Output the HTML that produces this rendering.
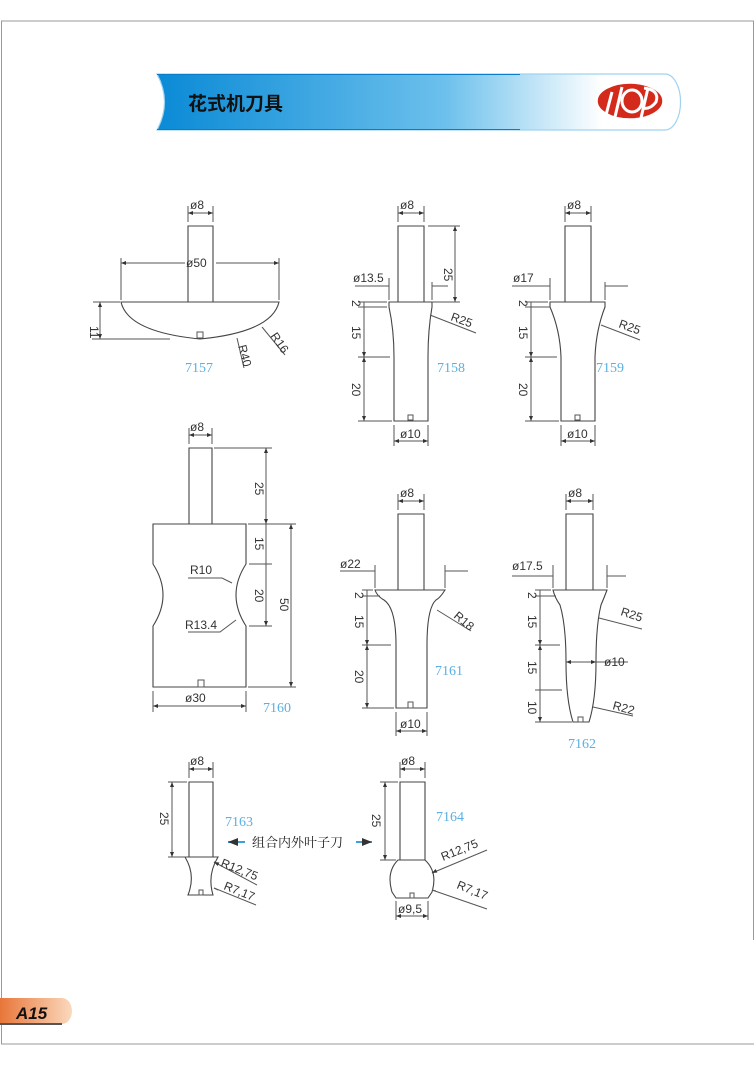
<!DOCTYPE html>
<html><head><meta charset="utf-8"><style>
html,body{margin:0;padding:0;background:#fff}
svg{display:block}
.l{stroke:#555;stroke-width:1;fill:none}
.b{stroke:#444;stroke-width:1.1;fill:#fff}
.t{font-family:"Liberation Sans",sans-serif;font-size:12px;fill:#333}
.n{font-family:"Liberation Serif",serif;font-size:14px;fill:#5ab0e0}
</style></head><body>
<svg width="755" height="1066" viewBox="0 0 755 1066" xmlns="http://www.w3.org/2000/svg">
<defs>
<marker id="a" viewBox="0 0 10 10" refX="10" refY="5" markerWidth="7" markerHeight="5" orient="auto-start-reverse"><path d="M0,1 L10,5 L0,9z" fill="#333"/></marker>
<linearGradient id="hg" x1="0" x2="1"><stop offset="0" stop-color="#0a8ad6"/><stop offset="0.55" stop-color="#6cc0ec"/><stop offset="0.85" stop-color="#fff"/><stop offset="1" stop-color="#fff"/></linearGradient>
<linearGradient id="og" x1="0" x2="1"><stop offset="0" stop-color="#e8763a"/><stop offset="1" stop-color="#fbd9bd"/></linearGradient>
</defs>
<path d="M1,21 H754 M1.5,21 V1044 H754 M753.5,21 V940" stroke="#999" stroke-width="1" fill="none"/>
<path d="M157,74 H665 A15,27 0 0 1 665,130 H157 Q172,102 157,74z" fill="url(#hg)" stroke="#9fd3f0" stroke-width="1.2"/>
<path d="M157,74.5 H520 M157,129.5 H520" stroke="#0a7cc8" stroke-width="1"/>
<text x="188" y="110" font-family="'Noto Sans CJK SC',sans-serif" font-weight="bold" font-size="19" fill="#111">花式机刀具</text>
<ellipse cx="630" cy="101" rx="33" ry="18" fill="#d42a1c" stroke="#fff" stroke-width="1.5"/>
<ellipse cx="632" cy="101" rx="10" ry="11" fill="none" stroke="#fff" stroke-width="3"/>
<path d="M612,92 L606,115 M622,87 L615,117 M648,88 L641,118" stroke="#fff" stroke-width="3"/>
<path d="M644,88 Q660,90 656,102 Q650,110 642,108" stroke="#fff" stroke-width="3" fill="none"/>
<path d="M0,998 H62 A10,13 0 0 1 62,1024 H0z" fill="url(#og)"/>
<path d="M0,1024 H62" stroke="#555" stroke-width="2"/>
<text x="16" y="1019" font-family="'Liberation Sans',sans-serif" font-style="italic" font-weight="bold" font-size="17" fill="#111">A15</text>

<path class="b" d="M188,302 V226 H213 V302"/>
<path class="b" d="M121,302 H279 Q272,332 200,339 Q128,332 121,302z"/>
<rect class="l" x="197" y="332" width="6" height="6"/>
<path class="l" d="M188,222 V206 M213,222 V206 M121,300 V258 M279,300 V258 M93,302 H120 M92,339 H170 M262,327 L285,355 M237,338 L244,368"/>
<path class="l" d="M188,213 H213" marker-start="url(#a)" marker-end="url(#a)"/>
<path class="l" d="M121,263 H185 M216,263 H279" marker-start="url(#a)"/>
<path class="l" d="M279,263 H216" marker-start="url(#a)"/>
<path class="l" d="M100,302 V339" marker-start="url(#a)" marker-end="url(#a)"/>
<text class="t" x="190" y="209">ø8</text>
<text class="t" x="186" y="267">ø50</text>
<text class="t" transform="translate(90,326) rotate(90)">11</text>
<text class="t" transform="translate(270,336) rotate(55)">R16</text>
<text class="t" transform="translate(238,346) rotate(75)">R40</text>
<text class="n" x="185" y="372">7157</text>

<g>
<path class="b" d="M398,302 V226 H424 V302"/>
<path class="b" d="M389,302 H432 V307 Q428,330 428,357 V421 H394 V357 Q394,330 389,307z"/>
<rect class="l" x="408" y="415" width="5" height="5"/>
<path class="l" d="M398,222 V206 M424,222 V206 M428,226 H460 M432,302 H460 M389,300 V278 M432,300 V282 M355,286 H389 M432,286 H448 M358,302 H387 M358,307 H387 M358,357 H390 M358,421 H392 M394,425 V446 M428,425 V446 M430,315 L476,333"/>
<path class="l" d="M398,213 H424" marker-start="url(#a)" marker-end="url(#a)"/>
<path class="l" d="M455,226 V302" marker-start="url(#a)" marker-end="url(#a)"/>
<path class="l" d="M364,302 V307 M364,307 V357" marker-end="url(#a)"/>
<path class="l" d="M364,357 V421" marker-start="url(#a)" marker-end="url(#a)"/>
<path class="l" d="M394,441 H428" marker-start="url(#a)" marker-end="url(#a)"/>
<text class="t" x="400" y="209">ø8</text>
<text class="t" x="353" y="282">ø13.5</text>
<text class="t" transform="translate(444,268) rotate(90)">25</text>
<text class="t" transform="translate(352,300) rotate(90)">2</text>
<text class="t" transform="translate(352,326) rotate(90)">15</text>
<text class="t" transform="translate(352,383) rotate(90)">20</text>
<text class="t" x="400" y="438">ø10</text>
<text class="t" transform="translate(450,320) rotate(20)">R25</text>
<text class="n" x="437" y="372">7158</text>
</g>

<g>
<path class="b" d="M565,302 V226 H591 V302"/>
<path class="b" d="M550,302 H605 V307 Q596,330 595,357 V421 H561 V357 Q560,330 550,307z"/>
<rect class="l" x="575" y="415" width="5" height="5"/>
<path class="l" d="M565,222 V206 M591,222 V206 M550,300 V278 M605,300 V282 M512,286 H550 M605,286 H628 M525,302 H548 M525,307 H550 M525,357 H557 M525,421 H559 M561,425 V446 M595,425 V446 M601,325 L640,340"/>
<path class="l" d="M565,213 H591" marker-start="url(#a)" marker-end="url(#a)"/>
<path class="l" d="M531,302 V307 M531,307 V357" marker-end="url(#a)"/>
<path class="l" d="M531,357 V421" marker-start="url(#a)" marker-end="url(#a)"/>
<path class="l" d="M561,441 H595" marker-start="url(#a)" marker-end="url(#a)"/>
<text class="t" x="567" y="209">ø8</text>
<text class="t" x="513" y="282">ø17</text>
<text class="t" transform="translate(519,300) rotate(90)">2</text>
<text class="t" transform="translate(519,326) rotate(90)">15</text>
<text class="t" transform="translate(519,383) rotate(90)">20</text>
<text class="t" x="567" y="438">ø10</text>
<text class="t" transform="translate(618,327) rotate(20)">R25</text>
<text class="n" x="596" y="372">7159</text>
</g>

<g>
<path class="b" d="M189,524 V448 H212 V524"/>
<path class="b" d="M153,524 H246 V564 Q226,595 246,626 V687 H153 V626 Q173,595 153,564z"/>
<rect class="l" x="198" y="680" width="6" height="7"/>
<path class="l" d="M189,444 V428 M212,444 V428 M214,448 H272 M248,524 H296 M249,564 H272 M249,626 H272 M248,687 H296 M153,691 V712 M246,691 V712 M188,578 H222 L232,583 M188,632 H220 L236,620"/>
<path class="l" d="M189,435 H212" marker-start="url(#a)" marker-end="url(#a)"/>
<path class="l" d="M266,448 V524" marker-start="url(#a)" marker-end="url(#a)"/>
<path class="l" d="M266,524 V564 M266,564 V626" marker-end="url(#a)"/>
<path class="l" d="M291,524 V687" marker-start="url(#a)" marker-end="url(#a)"/>
<path class="l" d="M153,706 H246" marker-start="url(#a)" marker-end="url(#a)"/>
<text class="t" x="190" y="431">ø8</text>
<text class="t" transform="translate(255,482) rotate(90)">25</text>
<text class="t" transform="translate(255,537) rotate(90)">15</text>
<text class="t" transform="translate(255,589) rotate(90)">20</text>
<text class="t" transform="translate(280,598) rotate(90)">50</text>
<text class="t" x="190" y="574">R10</text>
<text class="t" x="185" y="629">R13.4</text>
<text class="t" x="185" y="702">ø30</text>
<text class="n" x="263" y="712">7160</text>
</g>

<g>
<path class="b" d="M398,590 V514 H424 V590"/>
<path class="b" d="M375,590 H445 Q440,598 436,600 Q427,608 427,645 V708 H396 V645 Q396,608 384,600 Q377,596 375,590z"/>
<rect class="l" x="408" y="702" width="5" height="6"/>
<path class="l" d="M398,510 V494 M424,510 V494 M375,588 V565 M445,588 V565 M340,571 H375 M445,571 H468 M362,590 H373 M362,596 H380 M362,645 H391 M362,708 H394 M396,712 V736 M427,712 V736 M437,610 L471,631"/>
<path class="l" d="M398,501 H424" marker-start="url(#a)" marker-end="url(#a)"/>
<path class="l" d="M367,590 V596 M367,596 V645" marker-end="url(#a)"/>
<path class="l" d="M367,645 V708" marker-start="url(#a)" marker-end="url(#a)"/>
<path class="l" d="M396,731 H427" marker-start="url(#a)" marker-end="url(#a)"/>
<text class="t" x="400" y="497">ø8</text>
<text class="t" x="340" y="568">ø22</text>
<text class="t" transform="translate(355,592) rotate(90)">2</text>
<text class="t" transform="translate(355,615) rotate(90)">15</text>
<text class="t" transform="translate(355,670) rotate(90)">20</text>
<text class="t" x="400" y="728">ø10</text>
<text class="t" transform="translate(453,617) rotate(40)">R18</text>
<text class="n" x="435" y="675">7161</text>
</g>

<g>
<path class="b" d="M566,590 V514 H593 V590"/>
<path class="b" d="M553,590 H607 Q604,598 601,605 Q596,625 596,662 Q596,700 589,722 H573 Q566,700 566,662 Q566,625 560,605 Q555,598 553,590z"/>
<rect class="l" x="578" y="717" width="5" height="5"/>
<path class="l" d="M566,510 V494 M593,510 V494 M553,588 V565 M607,588 V565 M512,576 H553 M607,576 H626 M535,590 H551 M535,596 H556 M535,645 H560 M535,690 H562 M535,722 H572 M596,662 H628 M599,618 L642,629 M593,707 L633,716"/>
<path class="l" d="M566,501 H593" marker-start="url(#a)" marker-end="url(#a)"/>
<path class="l" d="M540,590 V596 M540,596 V645" marker-end="url(#a)"/>
<path class="l" d="M540,645 V690 M540,690 V722" marker-start="url(#a)" marker-end="url(#a)"/>
<path class="l" d="M566,662 H596" marker-start="url(#a)" marker-end="url(#a)"/>
<text class="t" x="568" y="497">ø8</text>
<text class="t" x="512" y="570">ø17.5</text>
<text class="t" transform="translate(528,592) rotate(90)">2</text>
<text class="t" transform="translate(528,615) rotate(90)">15</text>
<text class="t" transform="translate(528,661) rotate(90)">15</text>
<text class="t" transform="translate(528,701) rotate(90)">10</text>
<text class="t" x="604" y="666">ø10</text>
<text class="t" transform="translate(620,615) rotate(18)">R25</text>
<text class="t" transform="translate(612,709) rotate(15)">R22</text>
<text class="n" x="568" y="748">7162</text>
</g>

<g>
<path class="b" d="M189,857 V782 H213 V857"/>
<path class="b" d="M185,857 H218 Q207,875 213,895 H188 Q196,875 185,857z"/>
<rect class="l" x="199" y="890" width="4" height="5"/>
<path class="l" d="M189,778 V762 M213,778 V762 M168,782 H187 M168,857 H187 M214,862 L257,885 M214,888 L256,905"/>
<path class="l" d="M189,769 H213" marker-start="url(#a)" marker-end="url(#a)"/>
<path class="l" d="M172,782 V857" marker-start="url(#a)" marker-end="url(#a)"/>
<path class="l" d="M214,862 L218,864 M214,888 L218,890" marker-start="url(#a)"/>
<text class="t" x="190" y="765">ø8</text>
<text class="t" transform="translate(160,812) rotate(90)">25</text>
<text class="t" transform="translate(220,866) rotate(22)">R12,75</text>
<text class="t" transform="translate(223,889) rotate(22)">R7,17</text>
<text class="n" x="225" y="826">7163</text>
</g>
<path d="M228,842 H245" stroke="#3aa0e0" stroke-width="2" marker-start="url(#a)"/>
<path d="M356,842 H372" stroke="#3aa0e0" stroke-width="2" marker-end="url(#a)"/>
<text x="252" y="847" font-family="'Noto Serif CJK SC',serif" font-size="13" fill="#222">组合内外叶子刀</text>

<g>
<path class="b" d="M400,860 V782 H425 V860"/>
<path class="b" d="M398,860 H425 Q438,872 432,892 L428,898 H396 L392,892 Q386,872 398,860z"/>
<rect class="l" x="410" y="893" width="4" height="5"/>
<path class="l" d="M400,778 V762 M425,778 V762 M380,782 H398 M380,860 H396 M396,901 V920 M428,901 V920 M432,873 L487,850 M432,890 L487,909"/>
<path class="l" d="M400,769 H425" marker-start="url(#a)" marker-end="url(#a)"/>
<path class="l" d="M385,782 V860" marker-start="url(#a)" marker-end="url(#a)"/>
<path class="l" d="M396,916 H428" marker-start="url(#a)" marker-end="url(#a)"/>
<path class="l" d="M432,873 L436,871 M432,890 L436,891" marker-start="url(#a)"/>
<text class="t" x="401" y="765">ø8</text>
<text class="t" transform="translate(372,814) rotate(90)">25</text>
<text class="t" x="398" y="913">ø9,5</text>
<text class="t" transform="translate(443,861) rotate(-22)">R12,75</text>
<text class="t" transform="translate(456,888) rotate(22)">R7,17</text>
<text class="n" x="436" y="821">7164</text>
</g>
</svg>
</body></html>
